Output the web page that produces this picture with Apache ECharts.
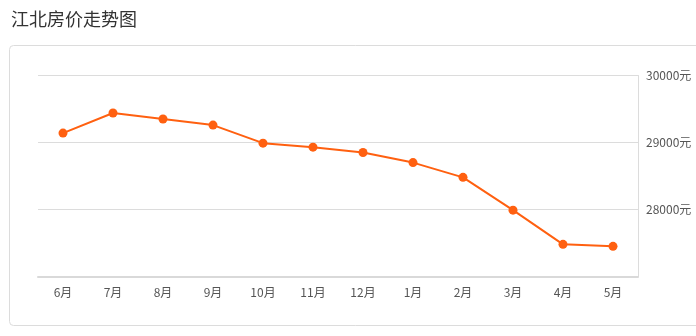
<!DOCTYPE html>
<html>
<head>
<meta charset="utf-8">
<script src="https://cdn.jsdelivr.net/npm/echarts@6/dist/echarts.min.js"></script>
<style>
html,body{margin:0;padding:0;background:#fff;}
#c{width:696px;height:336px;}
</style>
</head>
<body>
<div id="c"></div>
<script>
var titleText = '江北房价走势图';
var categories = ['6月','7月','8月','9月','10月','11月','12月','1月','2月','3月','4月','5月'];
var prices = [29140, 29440, 29350, 29260, 28990, 28930, 28850, 28700, 28480, 27990, 27480, 27450];
var yMin = 27000, yMax = 30000, yStep = 1000;
var yUnit = '元';

var chart = echarts.init(document.getElementById('c'), null, {renderer:'canvas'});
chart.setOption({
  animation:false,
  backgroundColor:'#fff',
  title:{
    text:titleText, left:6, top:5,
    textStyle:{fontSize:18, fontWeight:'normal', color:'#333', fontFamily:'"Noto Sans CJK SC", sans-serif'}
  },
  graphic:[{
    type:'rect', silent:true, z:-1,
    shape:{x:9.5, y:45.5, width:720, height:280, r:4},
    style:{fill:'#fff', stroke:'#dcdcdc', lineWidth:1}
  }],
  grid:{left:38, right:58, top:75.5, bottom:59.5, containLabel:false},
  xAxis:{
    type:'category', data:categories, boundaryGap:true,
    axisLine:{lineStyle:{color:'#d9d9d9', width:2}},
    axisTick:{alignWithLabel:true, length:4, lineStyle:{color:'#d9d9d9'}},
    axisLabel:{color:'#555', fontSize:12, margin:10, fontFamily:'"Noto Sans CJK SC", sans-serif'},
    splitLine:{show:false}
  },
  yAxis:{
    type:'value', position:'right', min:yMin, max:yMax, interval:yStep,
    axisLine:{show:true, lineStyle:{color:'#dcdcdc', width:1}},
    axisTick:{show:false},
    axisLabel:{color:'#555', fontSize:12, margin:8, showMinLabel:false,
      fontFamily:'"Noto Sans CJK SC", sans-serif',
      formatter:function(v){return v + yUnit;}},
    splitLine:{lineStyle:{color:'#dcdcdc', width:1}}
  },
  series:[{
    type:'line', data:prices,
    symbol:'circle', symbolSize:9,
    lineStyle:{color:'#ff6010', width:2},
    itemStyle:{color:'#ff6010'}
  }]
});
</script>
</body>
</html>
